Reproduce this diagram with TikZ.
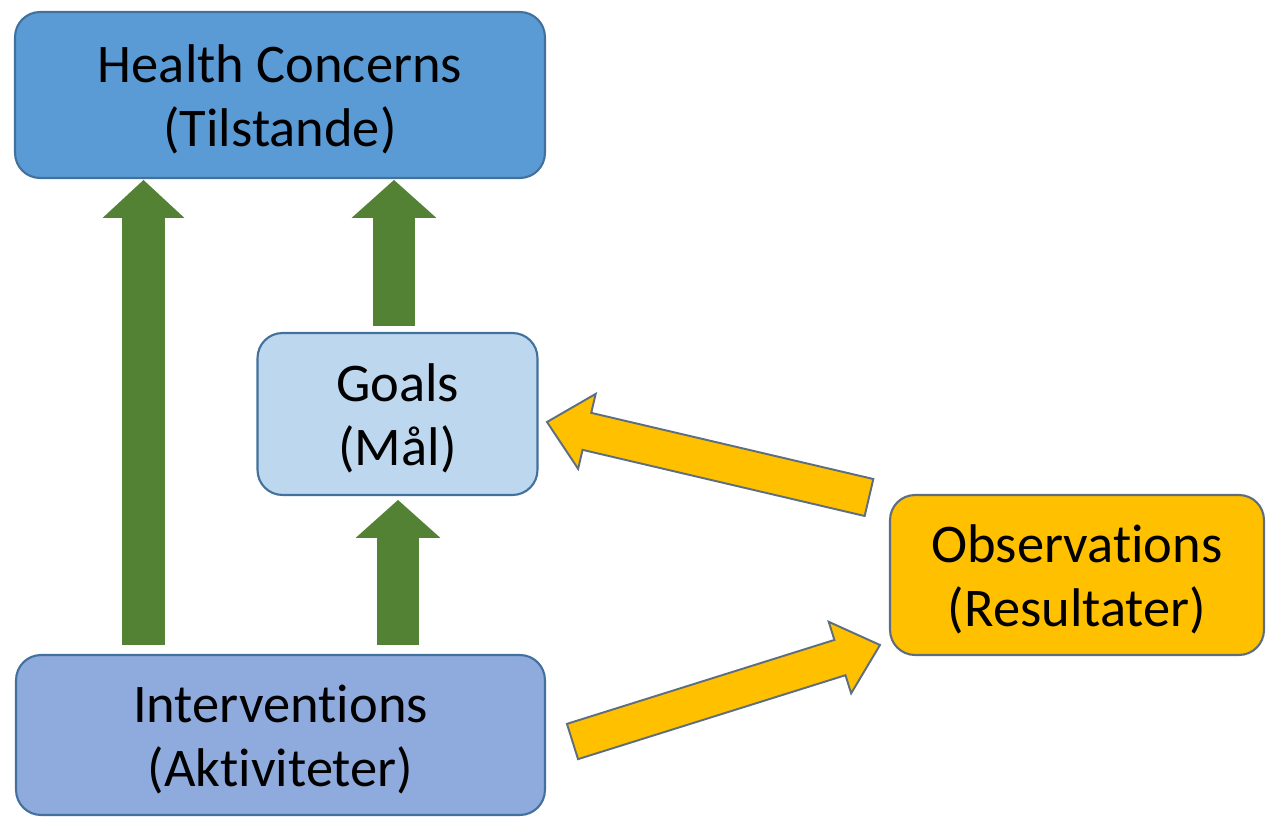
\documentclass[tikz,border=0pt]{standalone}
\usepackage{fontspec}
\setmainfont{Carlito}[Ligatures={NoCommon}]
\usetikzlibrary{calc}
\definecolor{hcfill}{HTML}{5B9BD5}
\definecolor{goalfill}{HTML}{BDD7EE}
\definecolor{intfill}{HTML}{8FAADC}
\definecolor{obsfill}{HTML}{FFC000}
\definecolor{bluedge}{HTML}{41719C}
\definecolor{yeledge}{HTML}{5E6E7E}
\definecolor{arrgreen}{HTML}{548235}
\newcommand\twolines[2]{\raisebox{-4pt}[\height][\depth]{\begin{tabular}{@{}c@{}}#1\\#2\end{tabular}}}
\tikzset{
  box/.style={rounded corners=0.5cm, line width=1.2pt, align=center, inner sep=0pt,
    font=\fontsize{31}{36.5}\selectfont},
  greenarr/.style={fill=arrgreen, draw=none},
  yellowarr/.style={fill=obsfill, draw=yeledge, line width=1.1pt, line join=miter},
}
\newcommand\blockarrow[6]{%
  \coordinate (#2-#3-b) at ($(#3)!#6!(#2)$);
  \draw[#1] ($(#2)!#4!90:(#3)$) -- ($(#2-#3-b)!#4!90:(#3)$) -- ($(#2-#3-b)!#5!90:(#3)$)
    -- (#3) -- ($(#2-#3-b)!#5!-90:(#3)$) -- ($(#2-#3-b)!#4!-90:(#3)$)
    -- ($(#2)!#4!-90:(#3)$) -- cycle;}
\begin{document}
\begin{tikzpicture}[x=0.02cm,y=-0.02cm]
\useasboundingbox (0,0) rectangle (1269,817);
\node[box, fill=hcfill, draw=bluedge, minimum width=10.6cm, minimum height=3.32cm] (hc) at (280,95) {\twolines{Health Concerns}{(Tilstande)}};
\node[box, fill=goalfill, draw=bluedge, minimum width=5.6cm, minimum height=3.24cm] (goals) at (397.5,414) {\twolines{Goals}{(Mål)}};
\node[box, fill=intfill, draw=bluedge, minimum width=10.58cm, minimum height=3.2cm] (int) at (280.5,735) {\twolines{Interventions}{(Aktiviteter)}};
\node[box, fill=obsfill, draw=yeledge, minimum width=7.48cm, minimum height=3.2cm] (obs) at (1077,575) {\twolines{Observations}{(Resultater)}};
\coordinate (g1s) at (143.5,645);
\coordinate (g1e) at (143.5,180);
\coordinate (g2s) at (394,326);
\coordinate (g2e) at (394,180);
\coordinate (g3s) at (398,645);
\coordinate (g3e) at (398,500);
\coordinate (y1s) at (869,497.5);
\coordinate (y1e) at (547,422);
\coordinate (y2s) at (572.5,741.5);
\coordinate (y2e) at (880,645);
\blockarrow{greenarr}{g1s}{g1e}{0.43cm}{0.82cm}{0.76cm}
\blockarrow{greenarr}{g2s}{g2e}{0.42cm}{0.85cm}{0.76cm}
\blockarrow{greenarr}{g3s}{g3e}{0.42cm}{0.85cm}{0.76cm}
\blockarrow{yellowarr}{y1s}{y1e}{0.38cm}{0.77cm}{0.82cm}
\blockarrow{yellowarr}{y2s}{y2e}{0.37cm}{0.75cm}{0.84cm}
\end{tikzpicture}
\end{document}
